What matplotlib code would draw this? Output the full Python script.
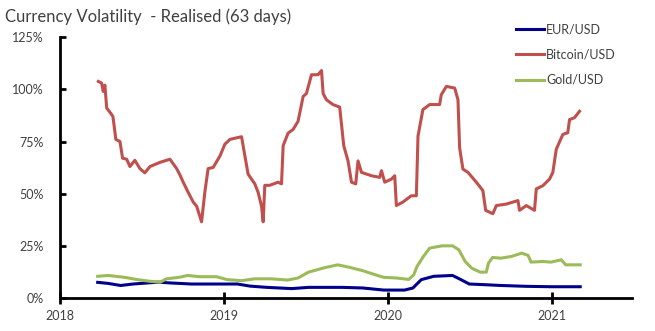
import matplotlib
matplotlib.use("Agg")
import matplotlib.pyplot as plt
from matplotlib.ticker import FuncFormatter

# decimal years / realised volatility (%)
btc_t = [2018.234, 2018.254, 2018.264, 2018.274, 2018.285, 2018.305, 2018.323, 2018.341,
         2018.366, 2018.382, 2018.407, 2018.427, 2018.457, 2018.488, 2018.518, 2018.549,
         2018.610, 2018.671, 2018.712, 2018.732, 2018.752, 2018.782, 2018.813, 2018.834,
         2018.864, 2018.884, 2018.904, 2018.935, 2018.976, 2019.006, 2019.037, 2019.108,
         2019.122, 2019.148, 2019.189, 2019.209, 2019.230, 2019.240, 2019.250, 2019.280,
         2019.331, 2019.352, 2019.362, 2019.392, 2019.423, 2019.453, 2019.484, 2019.504,
         2019.535, 2019.575, 2019.596, 2019.606, 2019.626, 2019.666, 2019.707, 2019.732,
         2019.758, 2019.779, 2019.805, 2019.819, 2019.840, 2019.901, 2019.951, 2019.962,
         2019.982, 2020.023, 2020.043, 2020.053, 2020.093, 2020.144, 2020.175, 2020.185,
         2020.215, 2020.256, 2020.317, 2020.327, 2020.358, 2020.409, 2020.429, 2020.439,
         2020.459, 2020.490, 2020.541, 2020.581, 2020.598, 2020.642, 2020.663, 2020.724,
         2020.795, 2020.805, 2020.846, 2020.896, 2020.907, 2020.947, 2020.988, 2021.008,
         2021.029, 2021.069, 2021.099, 2021.110, 2021.140, 2021.171]
btc_v = [103.8, 103.0, 99.0, 102.0, 91.0, 89.0, 87.0, 76.0,
         75.0, 67.0, 66.5, 63.0, 66.0, 62.0, 60.0, 63.0,
         65.0, 66.5, 62.0, 59.0, 55.5, 50.7, 46.0, 44.0,
         36.5, 50.7, 62.0, 62.6, 68.0, 73.7, 76.0, 77.3,
         71.0, 59.4, 54.7, 50.7, 44.0, 36.5, 54.0, 54.0,
         55.5, 54.7, 73.0, 79.0, 80.8, 84.7, 96.6, 98.0,
         107.0, 107.0, 109.0, 98.0, 95.0, 92.7, 91.5, 72.9,
         65.7, 55.5, 54.7, 65.7, 60.2, 58.6, 57.8, 61.0,
         55.5, 57.0, 58.6, 44.3, 46.0, 49.0, 49.0, 77.6,
         90.3, 92.7, 92.7, 97.4, 101.4, 100.6, 95.0, 72.0,
         61.8, 60.2, 55.5, 51.5, 42.0, 40.4, 44.3, 45.0,
         46.7, 42.0, 44.3, 42.0, 52.3, 53.8, 57.0, 60.2,
         71.3, 78.4, 79.2, 85.5, 86.4, 89.5]

gold_t = [2018.230, 2018.293, 2018.395, 2018.472, 2018.548, 2018.612, 2018.650, 2018.727,
          2018.778, 2018.854, 2018.956, 2019.020, 2019.109, 2019.186, 2019.287, 2019.389,
          2019.453, 2019.517, 2019.619, 2019.695, 2019.772, 2019.848, 2019.925, 2019.976,
          2020.052, 2020.128, 2020.159, 2020.179, 2020.218, 2020.256, 2020.332, 2020.396,
          2020.434, 2020.473, 2020.513, 2020.564, 2020.602, 2020.615, 2020.640, 2020.691,
          2020.755, 2020.818, 2020.857, 2020.875, 2020.946, 2020.997, 2021.060, 2021.086,
          2021.175]
gold_v = [10.4, 10.8, 9.9, 8.8, 8.0, 7.6, 9.2, 9.9,
          10.8, 10.2, 10.2, 8.8, 8.3, 9.2, 9.2, 8.6,
          9.6, 12.4, 14.6, 15.9, 14.6, 13.1, 11.1, 9.9,
          9.6, 8.9, 11.1, 15.1, 19.9, 23.9, 25.0, 25.0,
          23.1, 17.5, 14.3, 12.4, 12.4, 16.7, 19.4, 19.1,
          19.9, 21.5, 20.4, 17.2, 17.5, 17.2, 18.3, 15.9,
          15.9]

eur_t = [2018.230, 2018.293, 2018.370, 2018.446, 2018.599, 2018.676, 2018.803, 2018.981,
         2019.083, 2019.160, 2019.262, 2019.415, 2019.517, 2019.721, 2019.848, 2019.976,
         2020.103, 2020.154, 2020.205, 2020.281, 2020.396, 2020.447, 2020.498, 2020.587,
         2020.691, 2020.844, 2020.997, 2021.175]
eur_v = [7.5, 7.0, 6.0, 6.7, 7.6, 7.2, 6.7, 6.7,
         6.7, 5.7, 5.1, 4.5, 5.1, 5.1, 4.8, 3.8,
         3.8, 4.8, 8.8, 10.4, 10.8, 8.8, 6.7, 6.4,
         6.0, 5.6, 5.4, 5.4]

year_ticks = [2018, 2019, 2020, 2021]
pct_ticks = [0, 25, 50, 75, 100, 125]

txt = "#404040"
plt.rcParams["font.family"] = ["Lato", "DejaVu Sans"]

fig = plt.figure(figsize=(6.55, 3.31), dpi=100)
ax = fig.add_axes([0.0916, 0.0997, 0.873, 0.788])

ax.plot(eur_t, eur_v, color="#00008B", lw=2.2, label="EUR/USD")
ax.plot(btc_t, btc_v, color="#C0504D", lw=2.2, label="Bitcoin/USD")
ax.plot(gold_t, gold_v, color="#9BBB59", lw=2.2, label="Gold/USD")

ax.set_xlim(2018, 2021.49)
ax.set_ylim(0, 125)
ax.set_xticks(year_ticks)
ax.set_yticks(pct_ticks)
ax.xaxis.set_major_formatter(FuncFormatter(lambda v, p: f"{int(v)}"))
ax.yaxis.set_major_formatter(FuncFormatter(lambda v, p: f"{int(v)}%"))

for s in ["top", "right"]:
    ax.spines[s].set_visible(False)
for s in ["left", "bottom"]:
    ax.spines[s].set_linewidth(2)
ax.tick_params(axis="y", direction="in", length=4, width=2, pad=12, labelsize=9, labelcolor=txt)
ax.tick_params(axis="x", direction="inout", length=8, width=2, pad=5, labelsize=9, labelcolor=txt)

ax.legend(loc="upper left", bbox_to_anchor=(0.778, 1.095), frameon=False, fontsize=9,
          handlelength=2.2, handletextpad=0.2, labelspacing=1.05, labelcolor=txt)

fig.text(0.008, 0.935, "Currency Volatility  - Realised (63 days)", fontsize=12, color=txt)

fig.savefig("out.png", dpi=100)
